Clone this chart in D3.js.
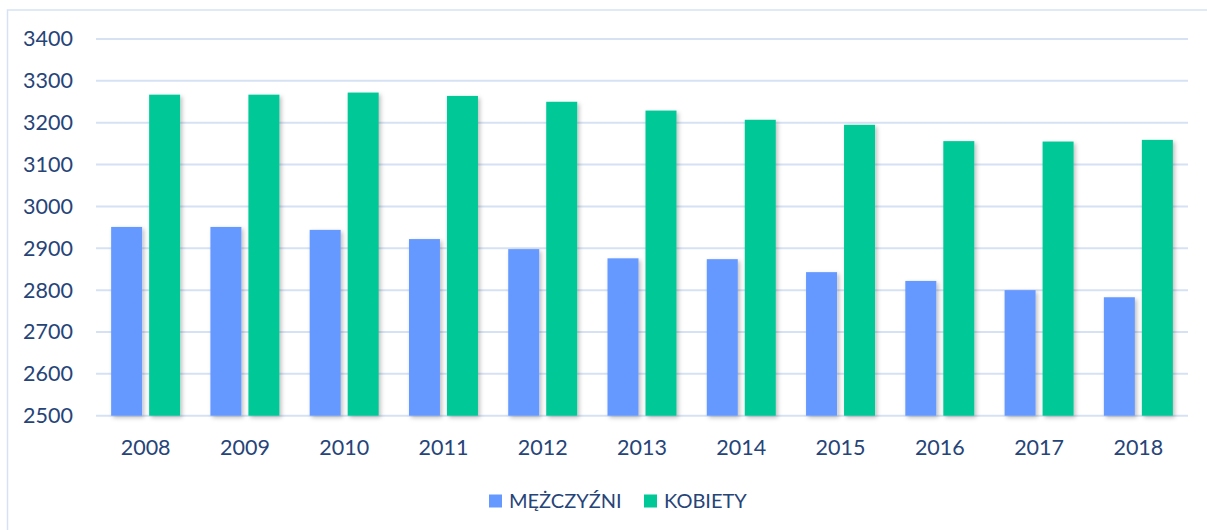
<!DOCTYPE html>
<html lang="pl">
  <head>
    <meta charset="UTF-8" />
    <title>Mężczyźni i kobiety 2008-2018</title>
    <script src="https://cdn.jsdelivr.net/npm/d3@7"></script>
    <style>
      body { margin: 0; background: #fff; }
      text { font-family: Lato, "Open Sans", sans-serif; fill: #264478; }
    </style>
  </head>
  <body>
    <svg width="1207" height="530"></svg>
    <script>
      const years = ["2008", "2009", "2010", "2011", "2012", "2013", "2014", "2015", "2016", "2017", "2018"];
      const men = [2951, 2951, 2944, 2922, 2898, 2876, 2874, 2843, 2822, 2800, 2783];
      const women = [3267, 3267, 3272, 3264, 3250, 3229, 3207, 3195, 3156, 3155, 3159];
      const seriesNames = ["MĘŻCZYŹNI", "KOBIETY"];
      const colors = ["#6699ff", "#00c896"];
      const yTicks = [2500, 2600, 2700, 2800, 2900, 3000, 3100, 3200, 3300, 3400];

      const svg = d3.select("svg");
      const marge = { top: 39, left: 96, right: 1188, bottom: 415.7 };

      // ramka wykresu (prawa i dolna krawędź poza obrazkiem)
      svg.append("rect")
        .attr("x", 7.5).attr("y", 10)
        .attr("width", 1220).attr("height", 540)
        .attr("fill", "none")
        .attr("stroke", "#d6e2f3")
        .attr("stroke-width", 1.5);

      const defs = svg.append("defs");
      defs.append("filter").attr("id", "shadow")
        .attr("x", "-20%").attr("y", "-5%").attr("width", "150%").attr("height", "115%")
        .append("feDropShadow")
        .attr("dx", 2).attr("dy", 2).attr("stdDeviation", 2)
        .attr("flood-color", "#000").attr("flood-opacity", 0.25);

      const x0 = d3.scaleBand().domain(years).range([marge.left, marge.right]);
      const y = d3.scaleLinear().domain([2500, 3400]).range([marge.bottom, marge.top]);

      // linie siatki
      svg.append("g").selectAll("line").data(yTicks).join("line")
        .attr("x1", marge.left).attr("x2", marge.right)
        .attr("y1", d => y(d)).attr("y2", d => y(d))
        .attr("stroke", "#d6e2f3").attr("stroke-width", 2);

      const yAxis = svg.append("g")
        .attr("transform", `translate(73,0)`)
        .call(d3.axisLeft(y).tickValues(yTicks).tickFormat(d3.format("d")).tickSize(0).tickPadding(0));
      yAxis.select(".domain").remove();
      yAxis.selectAll("text").attr("font-size", 21.5).attr("font-family", null).attr("fill", null);

      const xAxis = svg.append("g")
        .attr("transform", `translate(0,${marge.bottom})`)
        .call(d3.axisBottom(x0).tickSize(0).tickPadding(24));
      xAxis.select(".domain").remove();
      xAxis.selectAll("text").attr("font-size", 21.5).attr("font-family", null).attr("fill", null);

      // słupki
      const barW = 31, gap = 7;
      const data = [men, women];
      data.forEach((vals, s) => {
        svg.append("g").selectAll("rect").data(vals).join("rect")
          .attr("x", (d, i) => x0(years[i]) + x0.bandwidth() / 2 - barW - gap / 2 + s * (barW + gap))
          .attr("y", d => y(d))
          .attr("width", barW)
          .attr("height", d => y(2500) - y(d))
          .attr("fill", colors[s])
          .attr("filter", "url(#shadow)");
      });

      // legenda
      const legendX = [489, 644];
      const lg = svg.append("g");
      seriesNames.forEach((name, i) => {
        lg.append("rect")
          .attr("x", legendX[i]).attr("y", 494.5)
          .attr("width", 13).attr("height", 13)
          .attr("fill", colors[i]);
        lg.append("text")
          .attr("x", legendX[i] + 20).attr("y", 501)
          .attr("dy", "0.36em")
          .attr("font-size", 20)
          .text(name);
      });
    </script>
  </body>
</html>
